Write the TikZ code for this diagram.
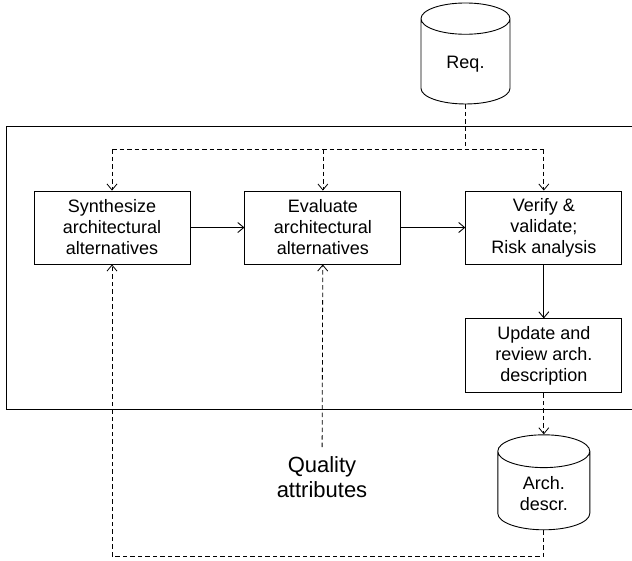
\documentclass[tikz,border=0pt]{standalone}
\usepackage{fontspec}
\setmainfont{Liberation Sans}
\usetikzlibrary{positioning}
\usetikzlibrary{shapes.geometric}
\usetikzlibrary{arrows.meta}
\tikzstyle{activity}=[draw, line width=0.9pt, minimum width=156pt, minimum height=73pt, align=center, inner sep=2pt]
\tikzstyle{store}=[draw, line width=0.9pt, cylinder, shape border rotate=90, aspect=0.6, align=center]
\tikzstyle{flow}=[-{Straight Barb[length=6pt, width=10pt]}, line width=0.9pt]
\tikzstyle{feed}=[line width=0.8pt, dash pattern=on 4.5pt off 3pt]

\begin{document}
\begin{tikzpicture}[x=1pt, y=-1pt, every node/.style={font=\fontsize{18}{21}\selectfont}]
    \useasboundingbox (0,0) rectangle (632,560);

    % process frame
    \draw[line width=0.9pt] (6,126) rectangle (633,409);

    \node[store, aspect=0.7, minimum width=89pt, minimum height=101pt] (req) at (465.5,64.5) {Req.};

    \node[activity] (synth)  at (112,227.5)           {Synthesize\\architectural\\alternatives};
    \node[activity] (eval)   [right = 54pt of synth]  {Evaluate\\architectural\\alternatives};
    \node[activity] (verify) [right = 64pt of eval]   {Verify \&\\validate;\\Risk analysis};
    \node[activity, minimum height=74pt] (update) [below = 54pt of verify] {Update and\\review arch.\\description};

    \node[store, minimum width=92pt, minimum height=95pt] (arch) [below = 41pt of update] {Arch.\\descr.};

    \node[font=\fontsize{22}{25}\selectfont, align=center, anchor=north, inner xsep=3pt, inner ysep=9pt] (quality) at (322,447) {Quality\\attributes};

    \coordinate (bus)  at (0,149);
    \coordinate (loop) at (0,556);

    % requirements feed
    \draw[feed] (req.south) -- (req.south |- bus);
    \draw[feed] (synth.north |- bus) -- (verify.north |- bus);
    \draw[flow, feed] (synth.north |- bus) -- (synth.north);
    \draw[flow, feed] (eval.north |- bus) -- (eval.north);
    \draw[flow, feed] (verify.north |- bus) -- (verify.north);

    % main flow
    \draw[flow] (synth) -- (eval);
    \draw[flow] (eval) -- (verify);
    \draw[flow] (verify) -- (update);
    \draw[flow, feed] (update) -- (arch);

    % quality and feedback
    \draw[flow, feed] (quality) -- (eval);
    \draw[flow, feed] (arch.south) -- (arch.south |- loop) -- (synth.south |- loop) -- (synth.south);
\end{tikzpicture}
\end{document}
